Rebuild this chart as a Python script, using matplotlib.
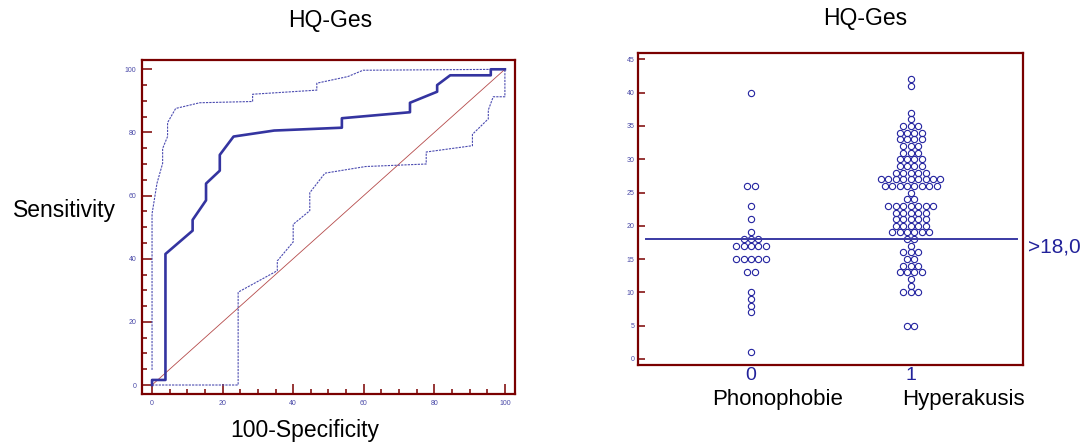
import matplotlib.pyplot as plt
import numpy as np

plt.rcParams['font.family'] = ['Liberation Sans', 'DejaVu Sans']

# ROC curve (100-Specificity, Sensitivity)
roc_x = [0, 0, 3.8, 3.8, 11.5, 11.5, 15.3, 15.3, 19.2, 19.2, 23.1, 34.6, 53.8, 53.8,
         73.1, 73.1, 80.8, 80.8, 84.5, 96.0, 96.0, 100]
roc_y = [0, 1.6, 1.6, 41.5, 48.9, 52.3, 58.5, 63.8, 67.9, 72.9, 78.7, 80.6, 81.5, 84.5,
         86.4, 89.4, 92.9, 95.0, 98.1, 98.1, 100, 100]

# confidence bounds
upper_x = [0, 0, 1.4, 3.0, 3.0, 4.4, 4.4, 6.7, 13.5, 28.5, 28.5, 46.7, 46.7, 55.5, 59.8, 100]
upper_y = [4.8, 54.2, 63.9, 70.2, 74.9, 78.7, 83.1, 87.6, 89.4, 89.8, 92.1, 93.4, 95.6, 97.7, 99.7, 100]
lower_x = [0, 24.4, 24.4, 35.5, 35.5, 40.0, 40.0, 44.7, 44.7, 49.0, 60.5, 77.7, 77.7,
           90.8, 90.8, 95.3, 95.3, 96.7, 100, 100]
lower_y = [0, 0, 29.4, 36.2, 39.3, 45.3, 50.9, 55.2, 60.9, 67.1, 69.2, 70.0, 73.8,
           75.8, 79.4, 84.3, 87.1, 91.3, 91.3, 100]

# dot plot: value -> count
phono_vals = [40, 26, 23, 21, 19, 18, 17, 15, 13, 10, 9, 8, 7, 1]
phono_cnt = [1, 2, 1, 1, 1, 3, 5, 5, 2, 1, 1, 1, 1, 1]
hyper_vals = [42, 41, 37, 36, 35, 34, 33, 32, 31, 30, 29, 28, 27, 26, 25, 24, 23, 22, 21, 20,
              19, 18, 17, 16, 15, 14, 13, 12, 11, 10, 5]
hyper_cnt = [1, 1, 1, 1, 3, 4, 4, 3, 3, 4, 4, 5, 9, 8, 1, 2, 7, 5, 5, 5,
             6, 2, 1, 3, 2, 3, 4, 1, 1, 3, 2]
cutoff = 18
groups = ['0', '1']
group_names = ['Phonophobie', 'Hyperakusis']

frame_col = '#7a0000'
lab_blue = '#4a4aa8'

fig = plt.figure(figsize=(10.88, 4.43), dpi=100)

# ---- left: ROC
ax1 = fig.add_axes([0.1305, 0.1106, 0.3428, 0.754])
ax1.plot([0, 100], [0, 100], color='#b54a4a', lw=0.6)
ax1.plot(upper_x, upper_y, color='#4a4ab0', lw=0.8, ls=(0, (2, 1)))
ax1.plot(lower_x, lower_y, color='#4a4ab0', lw=0.8, ls=(0, (2, 1)))
ax1.plot(roc_x, roc_y, color='#3434a0', lw=1.9)
ax1.set_xlim(-2.85, 102.85)
ax1.set_ylim(-2.85, 102.95)
ax1.set_xticks(np.arange(0, 101, 20))
ax1.set_yticks(np.arange(0, 101, 20))
ax1.set_xticks(np.arange(0, 101, 5), minor=True)
ax1.set_yticks(np.arange(0, 101, 5), minor=True)
ax1.tick_params(which='major', direction='in', length=7, width=1.1, color=frame_col,
                labelsize=5, labelcolor=lab_blue, pad=4)
ax1.tick_params(which='minor', direction='in', length=3.3, width=1.1, color=frame_col)
for s in ax1.spines.values():
    s.set_color(frame_col)
    s.set_linewidth(1.6)
fig.text(0.3038, 0.9526, 'HQ-Ges', ha='center', va='center', fontsize=16.5)
fig.text(0.059, 0.524, 'Sensitivity', ha='center', va='center', fontsize=16.5)
fig.text(0.2803, 0.029, '100-Specificity', ha='center', va='center', fontsize=16.5)

# ---- right: dot plot
ax2 = fig.add_axes([0.5861, 0.1761, 0.3544, 0.7049])
step = 0.0465
for gi, (vals, cnts) in enumerate([(phono_vals, phono_cnt), (hyper_vals, hyper_cnt)]):
    for v, c in zip(vals, cnts):
        xs = gi + (np.arange(c) - (c - 1) / 2) * step
        ax2.plot(xs, [v] * c, 'o', ms=4.5, mfc='none', mec='#2323a0', mew=0.8, ls='none')
ax2.plot([-0.657, 1.664], [cutoff, cutoff], color='#3a3aa4', lw=1.4)
ax2.set_xlim(-0.71, 1.705)
ax2.set_ylim(-0.9, 46)
ax2.set_yticks(np.arange(0, 46, 5))
ax2.set_xticks([0, 1])
ax2.set_xticklabels(groups)
ax2.tick_params(axis='y', direction='in', length=5.3, width=1.1, color=frame_col,
                labelsize=5, labelcolor=lab_blue, pad=2.5)
ax2.tick_params(axis='x', length=0, labelsize=14, labelcolor='#22229a', pad=1.5)
for s in ax2.spines.values():
    s.set_color(frame_col)
    s.set_linewidth(1.6)
ax2.text(1.012, cutoff + 0.3, '>18,0', transform=ax2.get_yaxis_transform(), ha='left', va='top',
         fontsize=15, color='#22229a')
fig.text(0.7950, 0.9586, 'HQ-Ges', ha='center', va='center', fontsize=16.5)
fig.text(0.7151, 0.099, group_names[0], ha='center', va='center', fontsize=16)
fig.text(0.8855, 0.099, group_names[1], ha='center', va='center', fontsize=16)

fig.savefig('out.png', dpi=100)
